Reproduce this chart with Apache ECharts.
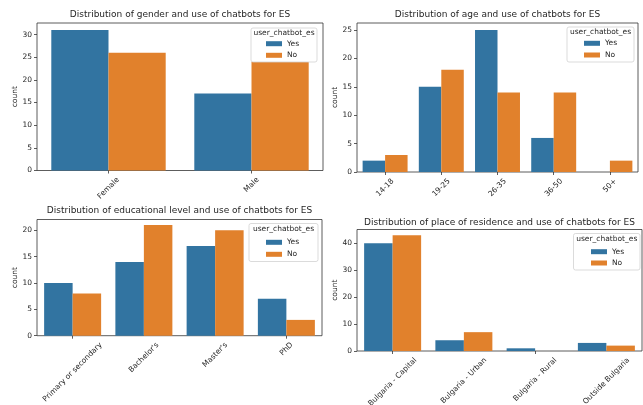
<!DOCTYPE html>
<html>
<head>
<meta charset="utf-8">
<script src="https://cdn.jsdelivr.net/npm/echarts@6/dist/echarts.min.js"></script>
<style>
  html, body { margin: 0; padding: 0; background: #ffffff; }
  #chart { width: 643px; height: 405px; }
</style>
</head>
<body>
<div id="chart"></div>
<script>
// ---- data ----
const genderCats = ['Female', 'Male'];
const genderYes = [31, 17];
const genderNo = [26, 24];
const genderTicks = [0, 5, 10, 15, 20, 25, 30];

const ageCats = ['14-18', '19-25', '26-35', '36-50', '50+'];
const ageYes = [2, 15, 25, 6, 0];
const ageNo = [3, 18, 14, 14, 2];
const ageTicks = [0, 5, 10, 15, 20, 25];

const eduCats = ['Primary or secondary', "Bachelor's", "Master's", 'PhD'];
const eduYes = [10, 14, 17, 7];
const eduNo = [8, 21, 20, 3];
const eduTicks = [0, 5, 10, 15, 20];

const resCats = ['Bulgaria - Capital', 'Bulgaria - Urban', 'Bulgaria - Rural', 'Outside Bulgaria'];
const resYes = [40, 4, 1, 3];
const resNo = [43, 7, 0, 2];
const resTicks = [0, 10, 20, 30, 40];

const seriesNames = ['Yes', 'No'];
const legendTitle = 'user_chatbot_es';
const yName = 'count';

const panels = [
  { title: 'Distribution of gender and use of chatbots for ES', cats: genderCats, yes: genderYes, no: genderNo, ticks: genderTicks },
  { title: 'Distribution of age and use of chatbots for ES', cats: ageCats, yes: ageYes, no: ageNo, ticks: ageTicks },
  { title: 'Distribution of educational level and use of chatbots for ES', cats: eduCats, yes: eduYes, no: eduNo, ticks: eduTicks },
  { title: 'Distribution of place of residence and use of chatbots for ES', cats: resCats, yes: resYes, no: resNo, ticks: resTicks }
];

// ---- layout (pixel boxes: left, top, right, bottom) ----
const plotBoxes = [
  [37, 23, 323, 170.5],
  [357, 23, 638, 172],
  [37, 219.5, 322, 335.7],
  [357, 229.5, 642, 351]
];
const titleY = [15, 15, 211, 222.5];
// legend frame: left, top, right, bottom; patch left; row centers
const legendBoxes = [
  { box: [251, 28, 317, 62], patchX: 266, rows: [43.7, 55.3] },
  { box: [567, 27, 634, 62], patchX: 584, rows: [43.3, 55] },
  { box: [249, 223.5, 318, 261.5], patchX: 266, rows: [242.3, 254.3] },
  { box: [573.5, 233.5, 640, 270], patchX: 591, rows: [251.7, 263] }
];

const COLORS = ['#3274a1', '#e1812c'];
const TEXT = '#262626';
const FONT = '"DejaVu Sans", "Liberation Sans", sans-serif';
const TICK_FS = 7.5;
const TITLE_FS = 9;

const chart = echarts.init(document.getElementById('chart'), null, { renderer: 'canvas' });

const grids = [], xAxes = [], yAxes = [], series = [], titles = [], legends = [];

panels.forEach((p, i) => {
  const [l, t, r, b] = plotBoxes[i];
  grids.push({
    left: l, top: t, width: r - l, height: b - t,
    show: true, borderColor: '#333', borderWidth: 0.8, backgroundColor: 'transparent',
    containLabel: false
  });
  xAxes.push({
    type: 'category', gridIndex: i, data: p.cats,
    axisLine: { show: false },
    axisTick: { show: true, alignWithLabel: true, length: 3, lineStyle: { color: '#333', width: 0.8 } },
    axisLabel: { show: false },
    splitLine: { show: false }
  });
  const top = Math.max(...p.yes, ...p.no) * 1.05;
  yAxes.push({
    type: 'value', gridIndex: i, min: 0, max: top,
    name: yName, nameLocation: 'middle', nameGap: 18, nameRotate: 90,
    nameTextStyle: { fontFamily: FONT, fontSize: TICK_FS, color: TEXT },
    axisLine: { show: false },
    axisTick: { show: true, length: 3, customValues: p.ticks, lineStyle: { color: '#333', width: 0.8 } },
    axisLabel: { show: true, customValues: p.ticks, margin: 5, fontFamily: FONT, fontSize: TICK_FS, color: TEXT },
    splitLine: { show: false }
  });
  [p.yes, p.no].forEach((vals, k) => {
    series.push({
      type: 'bar', name: seriesNames[k], xAxisIndex: i, yAxisIndex: i,
      data: vals, barGap: '0%', barCategoryGap: '20%',
      itemStyle: { color: COLORS[k] }, z: 2
    });
  });
  titles.push({
    text: p.title, left: (l + r) / 2, top: titleY[i] - 5.5, textAlign: 'center', padding: 0,
    textStyle: { fontFamily: FONT, fontSize: TITLE_FS, fontWeight: 'normal', color: TEXT, lineHeight: 11 }
  });
  const lg = legendBoxes[i];
  legends.push({
    data: seriesNames, orient: 'vertical', left: lg.patchX, top: lg.rows[0] - 4.5,
    padding: 0, itemGap: lg.rows[1] - lg.rows[0] - 9, itemWidth: 16, itemHeight: 5,
    icon: 'rect', selectedMode: false, z: 10,
    textStyle: { fontFamily: FONT, fontSize: TICK_FS, color: TEXT, lineHeight: 9 }
  });
});

chart.setOption({
  animation: false,
  backgroundColor: '#ffffff',
  title: titles,
  legend: legends,
  grid: grids,
  xAxis: xAxes,
  yAxis: yAxes,
  series: series
});

// Rotated category labels (centred under each tick) plus legend frames.
const measureCtx = document.createElement('canvas').getContext('2d');
measureCtx.font = TICK_FS + 'px ' + FONT;
const graphics = [];
panels.forEach((p, i) => {
  const bottom = plotBoxes[i][3];
  p.cats.forEach(c => {
    const x = chart.convertToPixel({ xAxisIndex: i }, c);
    const w = measureCtx.measureText(c).width;
    const h = TICK_FS * 1.16;
    const cy = bottom + 5 + (w + h) * Math.SQRT1_2 / 2;
    graphics.push({
      type: 'text', x: x, y: cy, rotation: Math.PI / 4, z: 5,
      style: { text: c, x: 0, y: 0, align: 'center', verticalAlign: 'middle',
               font: TICK_FS + 'px ' + FONT, fill: TEXT }
    });
  });
  const lg = legendBoxes[i];
  const [bl, bt, br, bb] = lg.box;
  graphics.push({
    type: 'rect', z: 8,
    shape: { x: bl, y: bt, width: br - bl, height: bb - bt, r: 2 },
    style: { fill: 'rgba(255,255,255,0.95)', stroke: '#d2d2d2', lineWidth: 0.8 }
  });
  graphics.push({
    type: 'text', z: 9, x: (bl + br) / 2, y: bt + 5.5,
    style: { text: legendTitle, x: 0, y: 0, align: 'center', verticalAlign: 'middle',
             font: TICK_FS + 'px ' + FONT, fill: TEXT }
  });
});
chart.setOption({ graphic: graphics });
</script>
</body>
</html>
